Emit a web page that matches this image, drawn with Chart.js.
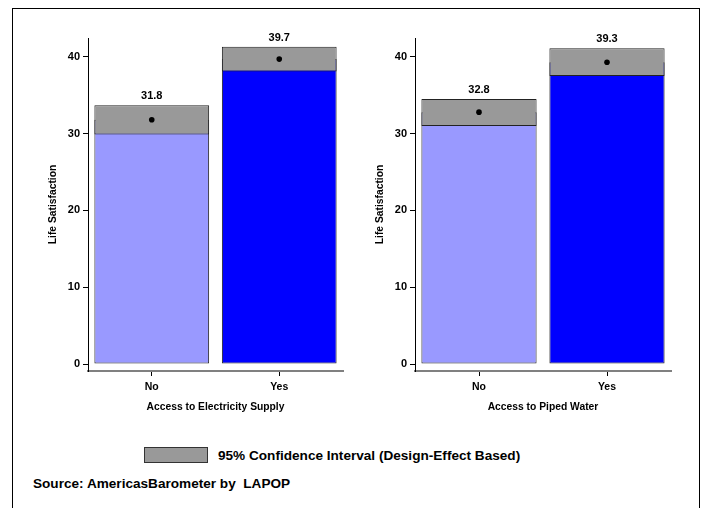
<!DOCTYPE html>
<html>
<head>
<meta charset="utf-8">
<script src="https://cdn.jsdelivr.net/npm/chart.js@4/dist/chart.umd.min.js"></script>
<style>
  html, body { margin: 0; padding: 0; background: #fff; }
  #page { position: relative; width: 704px; height: 508px; overflow: hidden; background: #fff; }
  canvas { position: absolute; top: 0; }
  #frame { position: absolute; left: 12px; top: 8px; width: 688px; height: 520px; border: 1px solid #000; box-sizing: border-box; pointer-events: none; }
  .note { position: absolute; font-family: "Liberation Sans", Arial, sans-serif; font-weight: bold; color: #000; white-space: pre; line-height: 1; }
  #legendBox { position: absolute; left: 144px; top: 447px; width: 64px; height: 16px; background: #999999; border: 1px solid #333; box-sizing: border-box; }
</style>
</head>
<body>
<div id="page">
  <canvas id="elec" width="352" height="430" style="left:0px"></canvas>
  <canvas id="water" width="352" height="430" style="left:327px"></canvas>
  <div id="legendBox"></div>
  <div class="note" id="legendText" style="left:218px; top:449px; font-size:13.6px;">95% Confidence Interval (Design-Effect Based)</div>
  <div class="note" id="source" style="left:33px; top:477px; font-size:13.6px;">Source: AmericasBarometer by  LAPOP</div>
  <div id="frame"></div>
</div>
<script>
// Categories and tick values
const categories = ['No', 'Yes'];
const yTickValues = [0, 10, 20, 30, 40];

// Access to electricity: mean and 95% CI bounds
const electricityMean = [31.8, 39.7];
const electricityLow = [29.9, 38.1];
const electricityHigh = [33.7, 41.3];

// Access to piped water: mean and 95% CI bounds
const waterMean = [32.8, 39.3];
const waterLow = [31.0, 37.5];
const waterHigh = [34.5, 41.1];

const barColors = ['#9999ff', '#0000ff'];
const FONT = '"Liberation Sans", Arial, sans-serif';

// Writes the mean value above each confidence box
const valueLabels = {
  id: 'valueLabels',
  afterDatasetsDraw(chart, args, opts) {
    const ctx = chart.ctx;
    const y = chart.scales.y;
    const meta = chart.getDatasetMeta(2);
    ctx.save();
    ctx.font = 'bold 11px ' + FONT;
    ctx.fillStyle = '#000';
    ctx.textAlign = 'center';
    ctx.textBaseline = 'middle';
    opts.means.forEach((m, i) => {
      const x = meta.data[i].x;
      ctx.fillText(m.toFixed(1), x, y.getPixelForValue(opts.highs[i]) - 9);
    });
    ctx.restore();
  }
};

function makePanel(canvasId, title, means, lows, highs, padRight) {
  const ciRanges = lows.map((lo, i) => [lo, highs[i]]);
  return new Chart(document.getElementById(canvasId), {
    type: 'bar',
    data: {
      labels: categories,
      datasets: [
        {
          type: 'line',
          data: means,
          showLine: false,
          pointRadius: 2.8,
          pointBackgroundColor: '#000',
          pointBorderColor: '#000',
          pointBorderWidth: 0,
          order: 0
        },
        {
          data: ciRanges,
          backgroundColor: '#999999',
          borderColor: '#222222',
          borderWidth: 1,
          borderSkipped: false,
          grouped: false,
          barPercentage: 0.9,
          categoryPercentage: 1,
          order: 1
        },
        {
          data: means,
          backgroundColor: barColors,
          borderColor: '#222222',
          borderWidth: 1,
          borderSkipped: false,
          grouped: false,
          barPercentage: 0.9,
          categoryPercentage: 1,
          order: 2
        }
      ]
    },
    options: {
      responsive: false,
      animation: false,
      devicePixelRatio: 1,
      layout: { padding: { left: 0, right: padRight, top: 38, bottom: 0 } },
      plugins: {
        legend: { display: false },
        tooltip: { enabled: false },
        valueLabels: { means: means, highs: highs }
      },
      scales: {
        x: {
          type: 'category',
          offset: true,
          afterFit(s) { s.height = 59; },
          border: { display: true, color: '#808080', width: 2 },
          grid: { display: true, drawOnChartArea: false, drawTicks: true, tickLength: 5, tickColor: '#000', tickWidth: 1, offset: false },
          ticks: { color: '#000', padding: 5, font: { family: FONT, size: 10.5, weight: 'bold' } },
          title: { display: true, text: title, color: '#000', padding: { top: 0, bottom: 17 }, font: { family: FONT, size: 10.3, weight: 'bold' } }
        },
        y: {
          min: -0.9,
          max: 42.45,
          afterFit(s) { s.width = 88; },
          afterBuildTicks(s) { s.ticks = yTickValues.map(v => ({ value: v })); },
          border: { display: true, color: '#000', width: 1 },
          grid: { display: true, drawOnChartArea: false, drawTicks: true, tickLength: 5, tickColor: '#000', tickWidth: 1 },
          ticks: { color: '#000', padding: 3, font: { family: FONT, size: 11, weight: 'bold' } },
          title: { display: true, text: 'Life Satisfaction', color: '#000', padding: { top: 47, bottom: 0 }, font: { family: FONT, size: 10.3, weight: 'bold' } }
        }
      }
    },
    plugins: [valueLabels]
  });
}

makePanel('elec', 'Access to Electricity Supply', electricityMean, electricityLow, electricityHigh, 9);
makePanel('water', 'Access to Piped Water', waterMean, waterLow, waterHigh, 8);
</script>
</body>
</html>
